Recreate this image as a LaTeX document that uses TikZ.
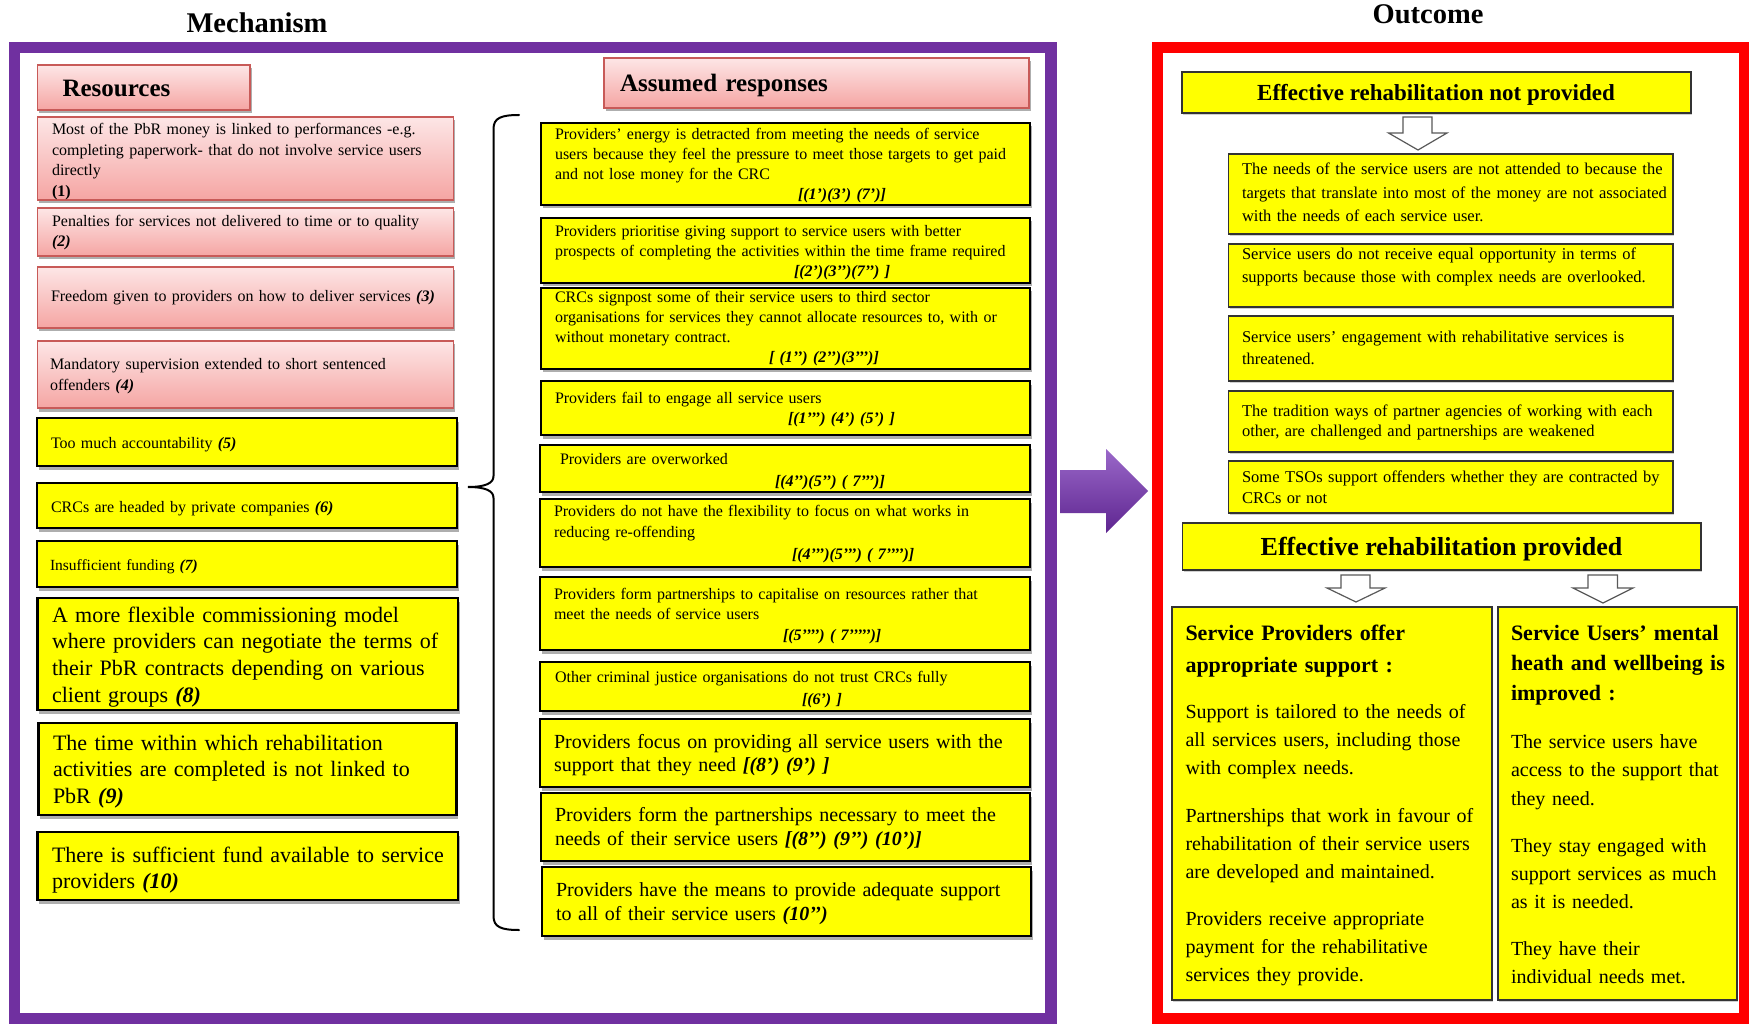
\documentclass[tikz,border=0pt]{standalone}
\usepackage{fontspec}
\setmainfont{Liberation Serif}[Ligatures=TeXOff]
\usetikzlibrary{shadows}

\definecolor{mechpurple}{HTML}{7030A0}
\definecolor{arrowlight}{HTML}{9A68C9}
\definecolor{arrowdark}{HTML}{5E2590}
\definecolor{outred}{HTML}{FF0000}
\definecolor{boxyellow}{HTML}{FFFF00}
\definecolor{pinktop}{RGB}{253,230,230}
\definecolor{pinkbot}{RGB}{245,165,163}
\definecolor{pinkline}{RGB}{200,90,88}
\definecolor{hollowline}{HTML}{595959}

\newcommand{\refmark}[1]{\textbf{\textit{#1}}}
\newcommand{\setfs}[2]{\fontsize{#1pt}{#2pt}\selectfont}

\begin{document}
\begin{tikzpicture}[x=1pt, y=-1pt,
  every node/.style={inner sep=0pt, outer sep=0pt},
  shadowed/.style={drop shadow={shadow xshift=1.5pt, shadow yshift=-3.5pt, opacity=0.45, fill=black!70}},
  pinkbox/.style={shadowed, anchor=north west, draw=pinkline, line width=1.3pt, top color=pinktop, bottom color=pinkbot},
  mechbox/.style={shadowed, anchor=north west, draw=black, line width=2.2pt, fill=boxyellow},
  outbox/.style={anchor=north west, draw=black!80, line width=1.3pt, fill=boxyellow,
    drop shadow={shadow xshift=1pt, shadow yshift=-2pt, opacity=0.3, fill=black!60}},
  txt/.style={anchor=base west, align=left, text width=560pt},
  heading/.style={anchor=base, font=\bfseries\setfs{28.5}{34}},
  hollow/.style={draw=hollowline, line width=1.2pt, fill=white, line join=miter},
]
\useasboundingbox (0,0) rectangle (1749,1024);
\fill[white] (0,0) rectangle (1749,1024);

% ---------- section titles ----------
\node[heading] (mechtitle) at (257,33) {Mechanism};
\node[heading] (outtitle) at (1428,24) {Outcome};

% ---------- frames ----------
\draw[mechpurple, line width=11.5pt] (14.5,47.5) rectangle (1051,1018.5);
\draw[outred, line width=11pt] (1157.5,47.5) rectangle (1744.5,1018.5);

% ---------- resources column ----------
\node[pinkbox, minimum width=212.5pt, minimum height=45pt] (res) at (37.5,65) {};
\node[txt, font=\bfseries\setfs{25}{30}] (rest) at (62.5,97) {Resources};

\node[pinkbox, minimum width=416pt, minimum height=83pt] (b1) at (37.5,117) {};
\node[txt, font=\setfs{16}{20.5}] (b1t) at (52,135) {Most of the PbR money is linked to performances -e.g.\\completing paperwork- that do not involve service users\\directly\\\textbf{(1)}};

\node[pinkbox, minimum width=416pt, minimum height=48pt] (b2) at (37.5,208) {};
\node[txt, font=\setfs{16}{20}] (b2t) at (52,227) {Penalties for services not delivered to time or to quality\\\refmark{(2)}};

\node[pinkbox, minimum width=416pt, minimum height=61pt] (b3) at (37.5,267) {};
\node[txt, font=\setfs{16}{20}] (b3t) at (51,302) {Freedom given to providers on how to deliver services \refmark{(3)}};

\node[pinkbox, minimum width=416pt, minimum height=67pt] (b4) at (37.5,341) {};
\node[txt, font=\setfs{16}{21}] (b4t) at (50,370) {Mandatory supervision extended to short sentenced\\offenders \refmark{(4)}};

\node[mechbox, minimum width=420pt, minimum height=48pt] (b5) at (37,418) {};
\node[txt, font=\setfs{16}{20}] (b5t) at (51,448) {Too much accountability \refmark{(5)}};

\node[mechbox, minimum width=420pt, minimum height=45pt] (b6) at (37,483) {};
\node[txt, font=\setfs{16}{20}] (b6t) at (51,512) {CRCs are headed by private companies \refmark{(6)}};

\node[mechbox, minimum width=420pt, minimum height=46pt] (b7) at (37,541) {};
\node[txt, font=\setfs{15.5}{20}] (b7t) at (50,570) {Insufficient funding \refmark{(7)}};

\node[mechbox, minimum width=420.5pt, minimum height=112pt] (b8) at (37.5,598) {};
\node[txt, font=\setfs{22}{26.7}] (b8t) at (52,622) {A more flexible commissioning model\\where providers can negotiate the terms of\\their PbR contracts depending on various\\client groups \refmark{(8)}};

\node[mechbox, minimum width=418pt, minimum height=92pt] (b9) at (38.5,723) {};
\node[txt, font=\setfs{22}{26.5}] (b9t) at (53,750) {The time within which rehabilitation\\activities are completed is not linked to\\PbR \refmark{(9)}};

\node[mechbox, minimum width=420.5pt, minimum height=68pt] (b10) at (37.5,832) {};
\node[txt, font=\setfs{22}{26}] (b10t) at (52,862) {There is sufficient fund available to service\\providers \refmark{(10)}};

% ---------- brace grouping the resources ----------
\coordinate (bracetop) at (519,115);
\coordinate (bracetip) at (468,487);
\coordinate (bracebot) at (519,930);
\draw[line width=2pt, line cap=round] (bracetop)
  .. controls (501,115) and (493.5,118) .. (493.5,129)
  -- (493.5,476)
  .. controls (493.5,483) and (486,487) .. (bracetip)
  .. controls (486,487) and (493.5,491) .. (493.5,498)
  -- (493.5,916)
  .. controls (493.5,927) and (501,930) .. (bracebot);

% ---------- assumed responses column ----------
\node[pinkbox, minimum width=425pt, minimum height=50pt] (ar) at (604,58) {};
\node[txt, font=\bfseries\setfs{25}{30}] (art) at (620,92) {Assumed responses};

\node[mechbox, minimum width=489pt, minimum height=82pt] (r1) at (541,123) {};
\node[txt, font=\setfs{16}{20}] (r1t) at (555,140) {Providers’ energy is detracted from meeting the needs of service\\users because they feel the pressure to meet those targets to get paid\\and not lose money for the CRC\\\hspace*{243pt}\refmark{[(1’)(3’) (7’)]}};

\node[mechbox, minimum width=489pt, minimum height=65pt] (r2) at (541,218) {};
\node[txt, font=\setfs{16}{20}] (r2t) at (555,237) {Providers prioritise giving support to service users with better\\prospects of completing the activities within the time frame required\\\hspace*{239pt}\refmark{[(2’)(3’’)(7’’) ]}};

\node[mechbox, minimum width=489pt, minimum height=81pt] (r3) at (541,288) {};
\node[txt, font=\setfs{16}{20}] (r3t) at (555,303) {CRCs signpost some of their service users to third sector\\organisations for services they cannot allocate resources to, with or\\without monetary contract.\\\hspace*{214pt}\refmark{[ (1’’) (2’’)(3’’’)]}};

\node[mechbox, minimum width=489pt, minimum height=54pt] (r4) at (541,381) {};
\node[txt, font=\setfs{16}{20}] (r4t) at (555,403) {Providers fail to engage all service users\\\hspace*{233pt}\refmark{[(1’’’) (4’) (5’) ]}};

\node[mechbox, minimum width=490pt, minimum height=47pt] (r5) at (540,445) {};
\node[txt, font=\setfs{16}{22}] (r5t) at (560,464) {Providers are overworked\\\hspace*{215pt}\refmark{[(4’’)(5’’) ( 7’’’)]}};

\node[mechbox, minimum width=490pt, minimum height=68pt] (r6) at (540,499) {};
\node[txt, font=\setfs{16}{21.5}] (r6t) at (554,516) {Providers do not have the flexibility to focus on what works in\\reducing re-offending\\\hspace*{238pt}\refmark{[(4’’’)(5’’’) ( 7’’’’)]}};

\node[mechbox, minimum width=490pt, minimum height=73pt] (r7) at (540,577) {};
\node[txt, font=\setfs{16}{20.5}] (r7t) at (554,599) {Providers form partnerships to capitalise on resources rather that\\meet the needs of service users\\\hspace*{229pt}\refmark{[(5’’’’) ( 7’’’’’)]}};

\node[mechbox, minimum width=490pt, minimum height=49pt] (r8) at (540,662) {};
\node[txt, font=\setfs{16}{22}] (r8t) at (555,682) {Other criminal justice organisations do not trust CRCs fully\\\hspace*{247pt}\refmark{[(6’) ]}};

\node[mechbox, minimum width=490pt, minimum height=68pt] (r9) at (540,719) {};
\node[txt, font=\setfs{20}{23}] (r9t) at (554,748) {Providers focus on providing all service users with the\\support that they need \refmark{[(8’) (9’) ]}};

\node[mechbox, minimum width=489pt, minimum height=68pt] (r10) at (541,793) {};
\node[txt, font=\setfs{20}{24}] (r10t) at (555,821) {Providers form the partnerships necessary to meet the\\needs of their service users \refmark{[(8’’) (9’’) (10’)]}};

\node[mechbox, minimum width=489pt, minimum height=69pt] (r11) at (542,867) {};
\node[txt, font=\setfs{20}{24}] (r11t) at (556,896) {Providers have the means to provide adequate support\\to all of their service users \refmark{(10’’)}};

% ---------- block arrow between the two frames ----------
\shade[top color=arrowlight, bottom color=arrowdark]
  (1060,470) -- (1106,470) -- (1106,449) -- (1148,491) -- (1106,533) -- (1106,513) -- (1060,513) -- cycle;

% ---------- outcome: not provided ----------
\node[outbox, minimum width=509pt, minimum height=41pt] (np) at (1182,72) {};
\node[anchor=base, font=\bfseries\setfs{23}{28}] (npt) at (1436,101) {Effective rehabilitation not provided};

\filldraw[hollow] (1403,117) -- (1432,117) -- (1432,133) -- (1447,133) -- (1418,150) -- (1388.5,133) -- (1403,133) -- cycle;

\node[outbox, minimum width=444.5pt, minimum height=80pt] (o1) at (1228.5,154) {};
\node[txt, font=\setfs{16.5}{23.5}] (o1t) at (1242,175) {The needs of the service users are not attended to because the\\targets that translate into most of the money are not associated\\with the needs of each service user.};

\node[outbox, minimum width=444.5pt, minimum height=63pt] (o2) at (1228.5,244) {};
\node[txt, font=\setfs{16.5}{23}] (o2t) at (1242,260) {\makebox[418pt][s]{Service users do not receive equal opportunity in terms of}\\supports because those with complex needs are overlooked.};

\node[outbox, minimum width=444.5pt, minimum height=65pt] (o3) at (1228.5,316) {};
\node[txt, font=\setfs{16.5}{21}] (o3t) at (1242,343) {Service users’ engagement with rehabilitative services is\\threatened.};

\node[outbox, minimum width=444.5pt, minimum height=61pt] (o4) at (1228.5,391) {};
\node[txt, font=\setfs{16.5}{20}] (o4t) at (1242,417) {The tradition ways of partner agencies of working with each\\other, are challenged and partnerships are weakened};

\node[outbox, minimum width=444.5pt, minimum height=52pt] (o5) at (1228.5,461) {};
\node[txt, font=\setfs{16.5}{21}] (o5t) at (1242,482) {Some TSOs support offenders whether they are contracted by\\CRCs or not};

% ---------- outcome: provided ----------
\node[outbox, minimum width=518.5pt, minimum height=47pt] (pv) at (1182.5,523) {};
\node[anchor=base, font=\bfseries\setfs{26}{30}] (pvt) at (1441.5,555) {Effective rehabilitation provided};

\filldraw[hollow] (1341,575) -- (1370,575) -- (1370,588) -- (1385,588) -- (1356,602) -- (1327,588) -- (1341,588) -- cycle;
\filldraw[hollow] (1588,575) -- (1617.5,575) -- (1617.5,588) -- (1633,588) -- (1603,603) -- (1573,588) -- (1588,588) -- cycle;

\node[outbox, minimum width=320pt, minimum height=393pt] (sp) at (1172,607) {};
\node[txt, font=\bfseries\setfs{22}{32}] (sptitle) at (1185.5,640) {Service Providers offer\\appropriate support :};
\node[txt, font=\setfs{20}{28.3}] (spa) at (1185.5,718) {Support is tailored to the needs of\\all services users, including those\\with complex needs.};
\node[txt, font=\setfs{20}{28}] (spb) at (1185.5,822) {Partnerships that work in favour of\\rehabilitation of their service users\\are developed and maintained.};
\node[txt, font=\setfs{20}{28}] (spc) at (1185.5,925) {Providers receive appropriate\\payment for the rehabilitative\\services they provide.};

\node[outbox, minimum width=239pt, minimum height=393pt] (su) at (1498,607) {};
\node[txt, font=\bfseries\setfs{22}{30}] (sutitle) at (1511,640) {Service Users’ mental\\heath and wellbeing is\\improved :};
\node[txt, font=\setfs{20}{28.5}] (sua) at (1511,748) {The service users have\\access to the support that\\they need.};
\node[txt, font=\setfs{20}{28}] (sub) at (1511,852) {They stay engaged with\\support services as much\\as it is needed.};
\node[txt, font=\setfs{20}{28}] (suc) at (1511,955) {They have their\\individual needs met.};
\end{tikzpicture}
\end{document}
